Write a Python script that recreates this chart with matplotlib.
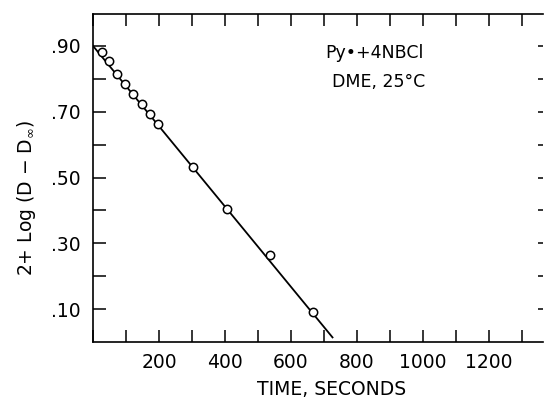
import numpy as np
from matplotlib import pyplot as plt
from matplotlib.ticker import MultipleLocator, FixedLocator, FuncFormatter

# readings taken off the plot
timeSeconds = [26, 48, 74, 98, 122, 148, 174, 197, 304, 405, 538, 666]
logValues = [0.882, 0.854, 0.814, 0.783, 0.754, 0.722, 0.692, 0.663, 0.533, 0.403, 0.263, 0.091]
fitTime = [0, 726]
fitValues = [0.900, 0.014]

xTickLabels = [200, 400, 600, 800, 1000, 1200]
yTickLabels = [0.10, 0.30, 0.50, 0.70, 0.90]

fig = plt.figure(figsize=(5.44, 4.0), dpi=100)
ax = fig.add_axes([93/544, 58/400, 450/544, 328/400])

ax.plot(fitTime, fitValues, color="black", linewidth=1.3)
ax.plot(timeSeconds, logValues, linestyle="none", marker="o", markersize=6,
        markerfacecolor="white", markeredgecolor="black", markeredgewidth=1.1)

ax.set_xlim(0, 1364)
ax.set_ylim(0, 0.997)

ax.xaxis.set_major_locator(MultipleLocator(100))
ax.xaxis.set_major_formatter(FuncFormatter(lambda v, p: str(int(round(v))) if int(round(v)) in xTickLabels else ""))
ax.yaxis.set_major_locator(FixedLocator(np.arange(1, 10) / 10))
ax.yaxis.set_major_formatter(FuncFormatter(
    lambda v, p: ("%.2f" % v)[1:] if any(abs(v - t) < 1e-6 for t in yTickLabels) else ""))

ax.spines["right"].set_visible(False)
for s in ["left", "bottom", "top"]:
    ax.spines[s].set_linewidth(1.2)

ax.tick_params(axis="x", which="major", direction="in", length=8.5, width=1.1,
               top=True, labelsize=13.5, pad=8)
ax.tick_params(axis="y", which="major", direction="in", length=9.5, width=1.1,
               labelsize=13.5, pad=9)

# short ticks on the right edge
ax2 = ax.twinx()
ax2.set_ylim(ax.get_ylim())
ax2.yaxis.set_major_locator(FixedLocator(np.arange(1, 10) / 10))
ax2.tick_params(axis="y", direction="in", length=3.6, width=1.1, labelright=False)
for s in ax2.spines.values():
    s.set_visible(False)

ax.text(703, 0.878, "Py\u2022+4NBCl", fontsize=12.5, ha="left", va="center")
ax.text(724, 0.790, "DME, 25\u00b0C", fontsize=12.5, ha="left", va="center")

ax.set_xlabel("TIME, SECONDS", fontsize=13.5)
ax.xaxis.set_label_coords(0.531, -0.115)
ax.set_ylabel(r"2+ Log (D $-$ D$_{\infty}$)", fontsize=13.5)
ax.yaxis.set_label_coords(-0.122, 0.44)

fig.savefig("out.png", dpi=100)
